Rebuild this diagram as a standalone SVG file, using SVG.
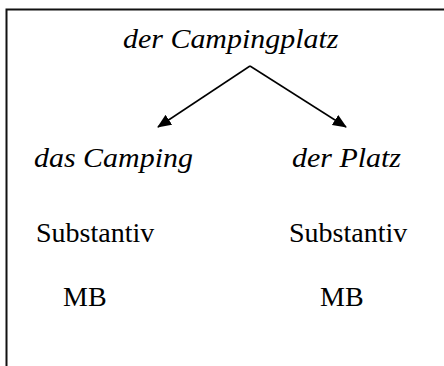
<svg xmlns="http://www.w3.org/2000/svg" width="444" height="366" viewBox="0 0 444 366">
  <style>
    .it { font-family: "Liberation Serif", "Times New Roman", serif; font-style: italic; font-size: 28px; fill: #000; }
    .rm { font-family: "Liberation Serif", "Times New Roman", serif; font-size: 28px; fill: #000; }
    .edge { stroke: #000; stroke-width: 1.5; fill: none; marker-end: url(#head); }
    .frame { stroke: #111; stroke-width: 2; fill: none; }
  </style>
  <defs>
    <marker id="head" viewBox="0 0 14 12" refX="13" refY="6" markerWidth="14" markerHeight="12" markerUnits="userSpaceOnUse" orient="auto">
      <path d="M0,0 L14,6 L0,12 Z" fill="#000"/>
    </marker>
  </defs>
  <rect width="444" height="366" fill="#fff"/>

  <!-- open frame: top and left edges only -->
  <path class="frame" d="M6.5,366 V9.5 H444"/>

  <g id="connectors">
    <line class="edge" x1="250" y1="66" x2="158" y2="127"/>
    <line class="edge" x1="250" y1="66" x2="346" y2="127"/>
  </g>

  <g id="root">
    <text class="it" transform="translate(123,48) scale(1.07,1)">der Campingplatz</text>
  </g>

  <g id="left">
    <text class="it" transform="translate(34,167) scale(1.07,1)">das Camping</text>
    <text class="rm" x="36" y="242">Substantiv</text>
    <text class="rm" x="63" y="306">MB</text>
  </g>

  <g id="right">
    <text class="it" transform="translate(292,167) scale(1.07,1)">der Platz</text>
    <text class="rm" x="289" y="242">Substantiv</text>
    <text class="rm" x="320" y="306">MB</text>
  </g>
</svg>
